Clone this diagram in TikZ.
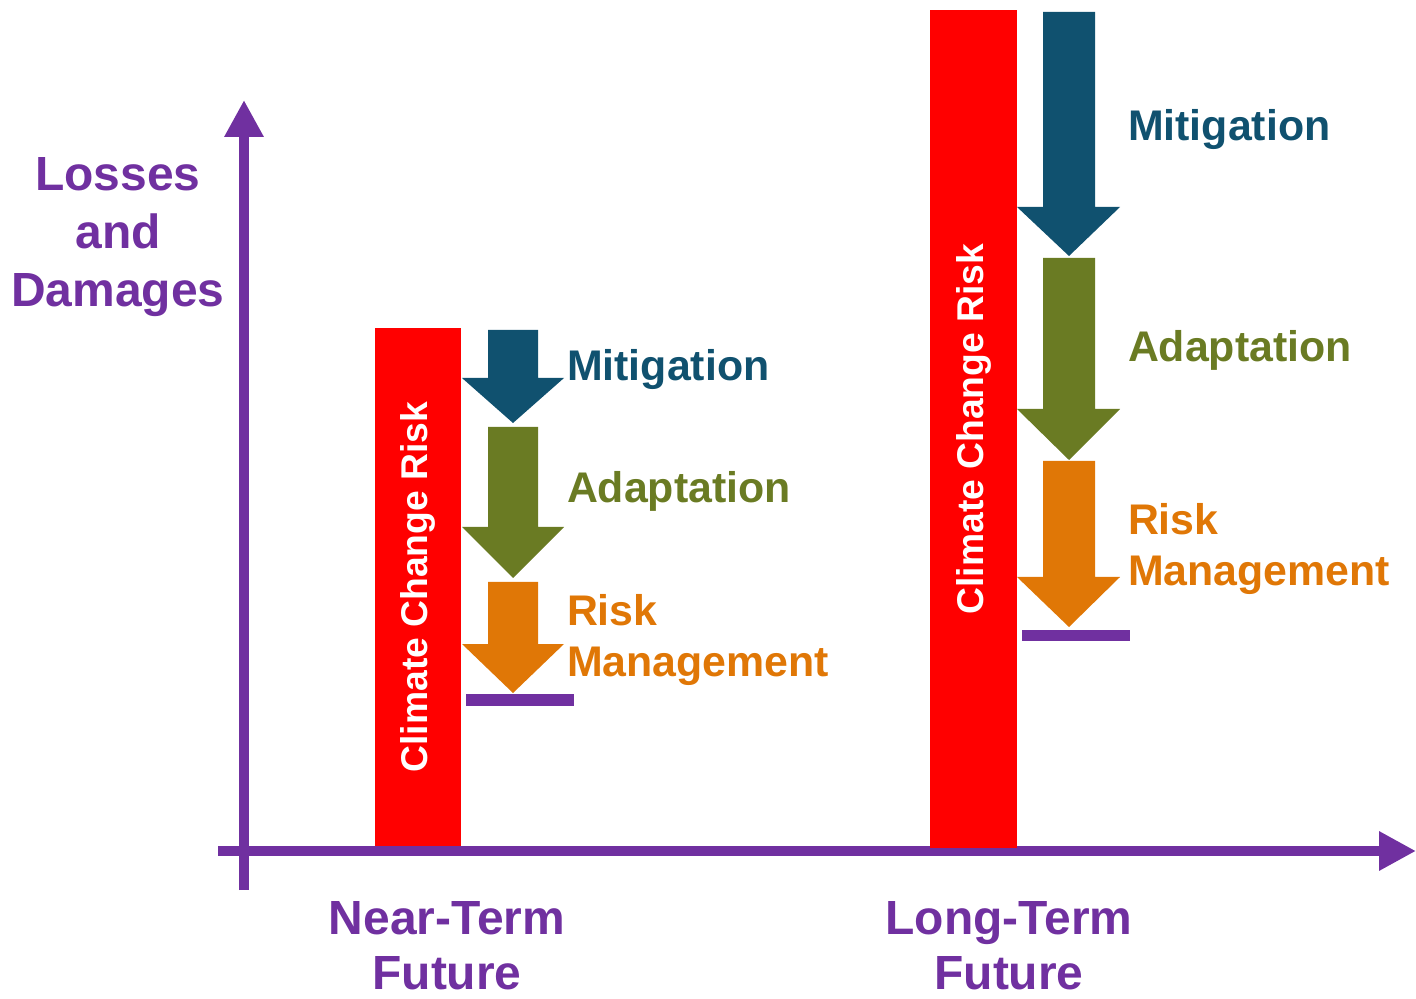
\documentclass[tikz,border=0pt]{standalone}
\usepackage{fontspec}
\setmainfont{Liberation Sans}
\usetikzlibrary{arrows.meta}

\definecolor{axis-color}{HTML}{7030A0}
\definecolor{risk-color}{HTML}{FF0000}
\definecolor{mitigation-color}{HTML}{10516F}
\definecolor{adaptation-color}{HTML}{6A7B23}
\definecolor{management-color}{HTML}{E07706}

\begin{document}
\begin{tikzpicture}[x=0.02cm, y=-0.02cm,
axis/.style={draw=axis-color, line width=0.2cm, -{Triangle[length=0.74cm,width=0.74cm]}},
riskbar/.style={fill=risk-color, text=white, rotate=90, minimum height=1.73cm, font=\fontsize{21.2}{25}\selectfont\bfseries},
actlabel/.style={anchor=base west, font=\fontsize{24.4}{29}\selectfont\bfseries},
twolabel/.style={anchor=west, align=left, font=\fontsize{24.4}{29}\selectfont\bfseries},
axislabel/.style={align=center, text=axis-color, font=\fontsize{27.3}{32.8}\selectfont\bfseries},
timelabel/.style={axislabel, font=\fontsize{27.3}{31.5}\selectfont\bfseries}]
\tikzstyle{every node}=[inner sep=0pt, outer sep=0pt]
\useasboundingbox (0,0) rectangle (1416,999);

% axes
\coordinate (YBottom) at (244,890);
\coordinate (YTop) at (244,100);
\coordinate (XLeft) at (218,851);
\coordinate (XRight) at (1416,851);
\draw[axis] (YBottom) -- (YTop);
\draw[axis] (XLeft) -- (XRight);

\node (Losses) [axislabel] at (118,237) {Losses\\and\\Damages};
\node (NearTerm) [timelabel] at (447,946) {Near-Term\\Future};
\node (LongTerm) [timelabel] at (1009,946) {Long-Term\\Future};
%
% near-term future
\node (NearRisk) [riskbar, minimum width=10.36cm] at (418,587) {Climate Change Risk};
\fill[mitigation-color] (488,330) -- (538,330) -- (538,378) -- (564,378) -- (513,423) -- (462,378) -- (488,378) -- cycle;
\fill[adaptation-color] (488,427) -- (538,427) -- (538,527) -- (564,527) -- (513,578) -- (462,527) -- (488,527) -- cycle;
\fill[management-color] (488,582) -- (538,582) -- (538,644) -- (564,644) -- (513,693) -- (462,644) -- (488,644) -- cycle;
\fill[axis-color] (466,694) rectangle (574,706);
\node (NearMitigation) [actlabel, text=mitigation-color] at (567,381) {Mitigation};
\node (NearAdaptation) [actlabel, text=adaptation-color] at (567,503) {Adaptation};
\node (NearManagement) [twolabel, text=management-color] at (567,640) {Risk\\Management};
%
% long-term future
\node (LongRisk) [riskbar, minimum width=16.76cm] at (973.5,429) {Climate Change Risk};
\fill[mitigation-color] (1043,12) -- (1095,12) -- (1095,207) -- (1120,207) -- (1069,256) -- (1017,207) -- (1043,207) -- cycle;
\fill[adaptation-color] (1043,258) -- (1095,258) -- (1095,409) -- (1120,409) -- (1069,460) -- (1017,409) -- (1043,409) -- cycle;
\fill[management-color] (1043,461) -- (1095,461) -- (1095,577) -- (1120,577) -- (1069,627) -- (1017,577) -- (1043,577) -- cycle;
\fill[axis-color] (1022,630) rectangle (1130,641);
\node (LongMitigation) [actlabel, text=mitigation-color] at (1128,141) {Mitigation};
\node (LongAdaptation) [actlabel, text=adaptation-color] at (1128,362) {Adaptation};
\node (LongManagement) [twolabel, text=management-color] at (1128,549) {Risk\\Management};

\end{tikzpicture}
\end{document}
